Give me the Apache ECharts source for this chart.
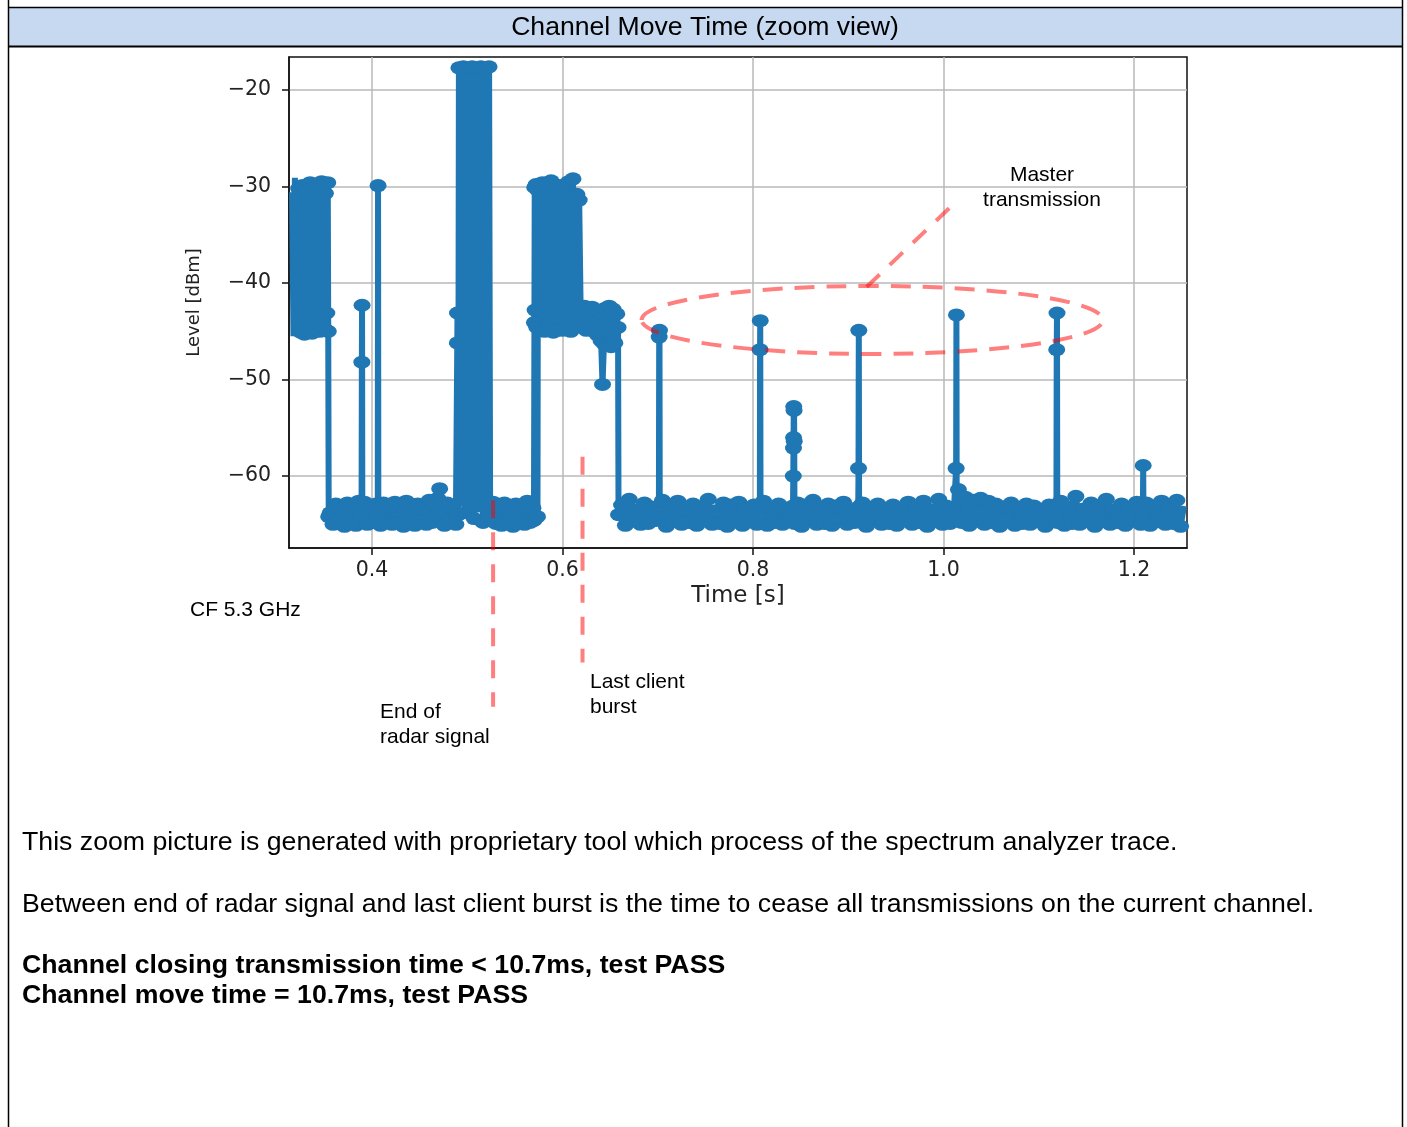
<!DOCTYPE html>
<html><head><meta charset="utf-8">
<script src="https://cdn.jsdelivr.net/npm/echarts@6/dist/echarts.min.js"></script>
<style>html,body{margin:0;padding:0;background:#fff}#c{width:1407px;height:1127px}</style>
</head><body><div id="c"></div>
<script>
// ---------- data ----------
const timeTicks = [0.4, 0.6, 0.8, 1.0, 1.2];
const levelTicks = [-60, -50, -40, -30, -20];
const timeRange = [0.3128, 1.2557];
const levelRange = [-67.45, -16.58];

// [time s, level dBm]
const clientBurstEarly = [
  [0.3160,-30.6],[0.3175,-45.5],[0.3190,-29.1],[0.3210,-45.5],
  [0.3230,-30.2],[0.3250,-45.1],[0.3270,-29.9],[0.3290,-45.3],[0.3310,-30.4],[0.3330,-44.9],
  [0.3350,-29.6],[0.3370,-45.2],[0.3390,-30.3],[0.3410,-44.8],[0.3430,-30.0],[0.3450,-45.0],
  [0.3470,-29.5],[0.3490,-44.6],[0.3510,-30.7],[0.3525,-43.1],[0.3535,-29.6],[0.3540,-45.0]
];
const noiseFloor1 = [
  [0.3545,-64.2],[0.3560,-63.8],[0.3590,-65.0],[0.3620,-62.9],[0.3650,-64.7],[0.3680,-63.4],
  [0.3710,-65.2],[0.3740,-62.8],[0.3770,-64.5],[0.3800,-63.1],[0.3830,-65.1],[0.3860,-62.6],
  [0.3890,-63.5],[0.3893,-48.2],[0.3895,-42.3],[0.3898,-64.4],
  [0.3920,-62.7],[0.3950,-65.0],[0.3980,-63.3],[0.4010,-64.8],[0.4040,-62.9],
  [0.4060,-64.1],[0.4063,-29.9],[0.4066,-63.6],
  [0.4090,-65.1],[0.4120,-62.8],[0.4150,-64.6],[0.4180,-63.2],[0.4210,-65.0],[0.4240,-62.7],
  [0.4270,-64.9],[0.4300,-63.0],[0.4330,-65.2],[0.4360,-62.6],[0.4390,-64.4],[0.4420,-63.5],
  [0.4450,-65.1],[0.4480,-62.9],[0.4510,-64.7],[0.4540,-63.3],[0.4570,-65.0],[0.4600,-62.5],
  [0.4630,-64.8],[0.4660,-63.0],[0.4690,-62.3],[0.4710,-61.3],[0.4730,-63.9],[0.4760,-65.1],
  [0.4790,-62.8],[0.4820,-64.6],[0.4850,-63.4],[0.4880,-65.0]
];
const radarPulse = [
  [0.4895,-46.2],[0.4897,-43.1],[0.4905,-64.0],[0.4912,-17.7],[0.4935,-62.5],[0.4958,-17.6],
  [0.4981,-63.8],[0.5004,-17.7],[0.5027,-62.9],[0.5050,-17.6],[0.5073,-64.4],[0.5096,-17.7],
  [0.5119,-63.1],[0.5142,-17.6],[0.5165,-64.8],[0.5188,-17.7],[0.5211,-63.3],[0.5229,-17.6],
  [0.5240,-64.5]
];
const noiseFloor2 = [
  [0.5270,-62.7],[0.5300,-64.9],[0.5330,-63.2],[0.5360,-65.1],[0.5390,-62.8],[0.5420,-64.5],
  [0.5450,-63.6],[0.5480,-65.2],[0.5510,-62.9],[0.5540,-64.7],[0.5570,-63.1],[0.5600,-65.0],
  [0.5630,-62.6],[0.5660,-64.8],[0.5690,-63.3],[0.5700,-64.6]
];
const clientBurstLate = [
  [0.5705,-44.1],[0.5708,-30.1],[0.5712,-42.8],[0.5722,-29.8],[0.5730,-44.6],[0.5737,-64.2],
  [0.5742,-30.4],[0.5765,-44.9],[0.5788,-29.6],[0.5811,-45.0],[0.5834,-30.2],[0.5857,-44.6],
  [0.5880,-29.4],[0.5903,-45.1],[0.5926,-30.6],[0.5949,-44.8],[0.5972,-29.9],[0.5995,-44.9],
  [0.6018,-30.3],[0.6041,-44.7],[0.6064,-29.5],[0.6087,-45.0],[0.6110,-29.2],[0.6133,-44.5],
  [0.6150,-30.8],[0.6165,-43.9],[0.6175,-31.4]
];
const clientTail = [
  [0.6190,-42.6],[0.6210,-44.6],[0.6230,-42.4],[0.6250,-44.9],[0.6270,-42.7],[0.6290,-44.5],
  [0.6310,-42.5],[0.6330,-45.0],[0.6350,-42.8],[0.6370,-45.4],[0.6390,-43.0],[0.6405,-46.0],
  [0.6420,-50.5],[0.6435,-46.3],[0.6450,-42.6],[0.6470,-46.4],[0.6490,-42.4],[0.6510,-46.6],
  [0.6530,-42.7],[0.6550,-46.2],[0.6570,-43.2],[0.6583,-44.6]
];
const noiseFloor3 = [
  [0.6588,-64.0],[0.6620,-63.0],[0.6660,-65.1],[0.6700,-62.4],[0.6740,-64.6],[0.6780,-63.5],
  [0.6820,-65.0],[0.6860,-62.8],[0.6900,-64.9],[0.6940,-63.2],[0.6980,-64.6],
  [0.7012,-63.8],[0.7015,-45.6],[0.7018,-44.9],[0.7021,-64.3],
  [0.7050,-62.5],[0.7090,-65.2],[0.7130,-63.1],[0.7170,-64.7],[0.7210,-62.6],[0.7250,-65.0],
  [0.7290,-63.4],[0.7330,-64.8],[0.7370,-62.9],[0.7410,-65.1],[0.7450,-63.2],[0.7490,-64.5],
  [0.7530,-62.4],[0.7570,-65.0],[0.7610,-63.6],[0.7650,-64.9],[0.7690,-62.8],[0.7730,-65.2],
  [0.7770,-63.0],[0.7810,-64.7],[0.7850,-62.7],[0.7890,-65.1],[0.7930,-63.3],[0.7970,-64.6],
  [0.8010,-63.0],[0.8040,-65.0],
  [0.8072,-63.7],[0.8074,-46.9],[0.8076,-43.9],[0.8079,-64.4],
  [0.8110,-62.6],[0.8150,-65.1],[0.8190,-63.2],[0.8230,-64.8],[0.8270,-62.9],[0.8310,-65.0],
  [0.8350,-63.5],[0.8390,-64.7],
  [0.8420,-63.1],[0.8423,-60.0],[0.8425,-57.1],[0.8426,-56.0],[0.8428,-52.8],[0.8431,-53.2],
  [0.8433,-56.4],[0.8436,-64.9],
  [0.8470,-62.8],[0.8510,-65.2],[0.8550,-63.0],[0.8590,-64.6],[0.8630,-62.5],[0.8670,-65.0],
  [0.8710,-63.4],[0.8750,-64.9],[0.8790,-62.9],[0.8830,-65.1],[0.8870,-63.1],[0.8910,-64.5],
  [0.8950,-62.7],[0.8990,-65.0],[0.9030,-63.6],[0.9070,-64.8],
  [0.9105,-63.2],[0.9108,-59.2],[0.9111,-44.9],[0.9114,-64.7],
  [0.9150,-62.8],[0.9190,-65.2],[0.9230,-63.3],[0.9270,-64.6],[0.9310,-62.9],[0.9350,-65.0],
  [0.9390,-63.7],[0.9430,-64.9],[0.9470,-63.0],[0.9510,-65.1],[0.9550,-63.4],[0.9590,-64.6],
  [0.9630,-62.7],[0.9670,-65.0],[0.9710,-63.2],[0.9750,-64.8],[0.9790,-62.6],[0.9830,-65.2],
  [0.9870,-63.5],[0.9910,-64.7],[0.9950,-62.4],[0.9990,-65.0],[1.0030,-63.1],[1.0070,-64.9],
  [1.0110,-63.4],
  [1.0133,-59.2],[1.0136,-43.3],[1.0139,-64.2],
  [1.0157,-61.4],[1.0190,-64.8],[1.0230,-62.2],[1.0270,-65.1],[1.0310,-62.5],[1.0350,-64.6],
  [1.0390,-62.3],[1.0430,-65.0],[1.0470,-62.6],[1.0510,-64.8],[1.0550,-62.9],[1.0590,-65.2],
  [1.0630,-63.2],[1.0670,-64.5],[1.0710,-62.8],[1.0750,-65.1],[1.0790,-63.4],[1.0830,-64.9],
  [1.0870,-62.9],[1.0910,-65.0],[1.0950,-63.1],[1.0990,-64.7],[1.1030,-63.5],[1.1070,-65.2],
  [1.1110,-63.0],[1.1150,-64.6],
  [1.1186,-63.6],[1.1189,-46.9],[1.1192,-43.1],[1.1195,-64.8],
  [1.1230,-62.6],[1.1270,-65.1],[1.1310,-63.2],[1.1350,-64.9],[1.1390,-62.1],[1.1430,-65.0],
  [1.1470,-63.4],[1.1510,-64.7],[1.1550,-62.8],[1.1590,-65.2],[1.1630,-63.1],[1.1670,-64.6],
  [1.1710,-62.4],[1.1750,-65.0],[1.1790,-63.5],[1.1830,-64.8],[1.1870,-62.9],[1.1910,-65.1],
  [1.1950,-63.3],[1.1990,-64.6],[1.2030,-62.7],[1.2070,-65.0],
  [1.2094,-63.6],[1.2097,-58.9],[1.2100,-64.4],
  [1.2130,-62.8],[1.2170,-65.1],[1.2210,-63.2],[1.2250,-64.7],[1.2290,-62.6],[1.2330,-65.0],
  [1.2370,-63.4],[1.2410,-64.9],[1.2450,-62.5],[1.2490,-65.2],[1.2525,-63.1]
];

// annotation anchors in data coordinates [time, level]
const radarEndLine = [[0.5271, -62.5], [0.5271, -83.9]];
const lastBurstLine = [[0.6210, -58.0], [0.6210, -79.3]];
const masterEllipse = { left: 0.6830, right: 1.1674, top: -40.3, bottom: -47.35 };
const masterPointer = [[0.9193, -40.4], [1.0097, -31.9]];

// texts
const headerTitle = 'Channel Move Time (zoom view)';
const noteLines = [
  'This zoom picture is generated with proprietary tool which process of the spectrum analyzer trace.',
  'Between end of radar signal and last client burst is the time to cease all transmissions on the current channel.'
];
const resultLines = [
  'Channel closing transmission time < 10.7ms, test PASS',
  'Channel move time = 10.7ms, test PASS'
];

// ---------- chart ----------
const trace = [].concat(clientBurstEarly, noiseFloor1, radarPulse, noiseFloor2,
                        clientBurstLate, clientTail, noiseFloor3);
const BLUE = '#1f77b4';
const RED = 'rgba(255,0,0,0.5)';
const TICKFONT = { fontFamily: 'DejaVu Sans', fontSize: 20.5, color: '#222' };
// markers are clipped at the plot frame like the original plot: hide those that would spill over it
const markerFor = v => (v[0] < timeRange[0] + 0.009 || v[0] > timeRange[1] - 0.006) ? 'none' : 'circle';

const chart = echarts.init(document.getElementById('c'), null, { renderer: 'canvas' });
chart.setOption({
  animation: false,
  backgroundColor: '#fff',
  grid: { left: 289, top: 57, right: 220, bottom: 579, show: true,
          borderColor: '#111', borderWidth: 1.5, backgroundColor: 'transparent' },
  xAxis: {
    type: 'value', min: timeRange[0], max: timeRange[1],
    name: 'Time [s]', nameLocation: 'middle', nameGap: 37,
    nameTextStyle: { fontFamily: 'DejaVu Sans', fontSize: 23, color: '#222' },
    axisLine: { show: true, onZero: false, lineStyle: { color: '#111', width: 1.5 } },
    axisTick: { show: true, length: 7, inside: false, customValues: timeTicks,
                lineStyle: { color: '#111', width: 1.5 } },
    axisLabel: Object.assign({ margin: 12, customValues: timeTicks,
                formatter: v => Number(v).toFixed(1) }, TICKFONT),
    splitLine: { show: true, lineStyle: { color: '#b8b8b8', width: 1.5 } }
  },
  yAxis: {
    type: 'value', min: levelRange[0], max: levelRange[1],
    name: 'Level [dBm]', nameLocation: 'middle', nameGap: 86, nameRotate: 90,
    nameTextStyle: { fontFamily: 'DejaVu Sans', fontSize: 18, color: '#222' },
    axisLine: { show: true, onZero: false, lineStyle: { color: '#111', width: 1.5 } },
    axisTick: { show: true, length: 7, inside: false, customValues: levelTicks,
                lineStyle: { color: '#111', width: 1.5 } },
    axisLabel: Object.assign({ margin: 18, customValues: levelTicks,
                formatter: v => (v < 0 ? '\u2212' : '') + Math.abs(v) }, TICKFONT),
    splitLine: { show: true, lineStyle: { color: '#b8b8b8', width: 1.5 } }
  },
  series: [{
    type: 'line', data: trace, clip: true,
    symbol: markerFor, symbolSize: [17, 13], showSymbol: true,
    itemStyle: { color: BLUE, borderWidth: 0 },
    lineStyle: { color: BLUE, width: 6 },
    emphasis: { disabled: true }, z: 2
  }]
});

// ---------- annotations and page frame ----------
const px = p => chart.convertToPixel({ gridIndex: 0 }, p);
const dashed = (a, b, id) => {
  const p1 = px(a), p2 = px(b);
  return { id, type: 'line', z: 100,
    shape: { x1: p1[0], y1: p1[1], x2: p2[0], y2: p2[1] },
    style: { stroke: RED, lineWidth: 4, lineDash: [18, 14] } };
};
const eL = px([masterEllipse.left, masterEllipse.top]);
const eR = px([masterEllipse.right, masterEllipse.bottom]);
const txt = (id, text, x, y, opts) => ({ id, type: 'text', z: 110, x, y,
  style: Object.assign({ text, fill: '#000', fontFamily: 'Liberation Sans, Arial, sans-serif',
    fontSize: 21, verticalAlign: 'middle', textAlign: 'left' }, opts || {}) });

chart.setOption({
  graphic: [
    { id: 'hdrFill', type: 'rect', z: -10, shape: { x: 9, y: 8, width: 1393, height: 38 },
      style: { fill: '#c6d9f1' } },
    { id: 'frTop', type: 'line', z: 50, shape: { x1: 8, y1: 7.5, x2: 1403, y2: 7.5 }, style: { stroke: '#000', lineWidth: 1.5 } },
    { id: 'frHdr', type: 'line', z: 50, shape: { x1: 8, y1: 46.5, x2: 1403, y2: 46.5 }, style: { stroke: '#000', lineWidth: 2 } },
    { id: 'frL', type: 'line', z: 50, shape: { x1: 8.5, y1: 0, x2: 8.5, y2: 1127 }, style: { stroke: '#000', lineWidth: 1.5 } },
    { id: 'frR', type: 'line', z: 50, shape: { x1: 1402.5, y1: 0, x2: 1402.5, y2: 1127 }, style: { stroke: '#000', lineWidth: 1.5 } },
    txt('hdr', headerTitle, 705, 28, { textAlign: 'center', fontSize: 26.6 }),
    dashed(radarEndLine[0], radarEndLine[1], 'radarEnd'),
    dashed(lastBurstLine[0], lastBurstLine[1], 'lastBurst'),
    dashed(masterPointer[0], masterPointer[1], 'pointer'),
    { id: 'ellipse', type: 'ellipse', z: 100,
      shape: { cx: (eL[0] + eR[0]) / 2, cy: (eL[1] + eR[1]) / 2,
               rx: (eR[0] - eL[0]) / 2, ry: (eR[1] - eL[1]) / 2 },
      style: { fill: 'none', stroke: RED, lineWidth: 4, lineDash: [20, 12] } },
    txt('m1', 'Master', 1042, 175, { textAlign: 'center' }),
    txt('m2', 'transmission', 1042, 200, { textAlign: 'center' }),
    txt('cf', 'CF 5.3 GHz', 190, 610),
    txt('e1', 'End of', 380, 712),
    txt('e2', 'radar signal', 380, 737),
    txt('l1', 'Last client', 590, 682),
    txt('l2', 'burst', 590, 707),
    txt('n1', noteLines[0], 22, 843, { fontSize: 26.7 }),
    txt('n2', noteLines[1], 22, 905, { fontSize: 26.7 }),
    txt('r1', resultLines[0], 22, 966, { fontSize: 26.7, fontWeight: 'bold' }),
    txt('r2', resultLines[1], 22, 996, { fontSize: 26.7, fontWeight: 'bold' })
  ]
});
</script></body></html>
